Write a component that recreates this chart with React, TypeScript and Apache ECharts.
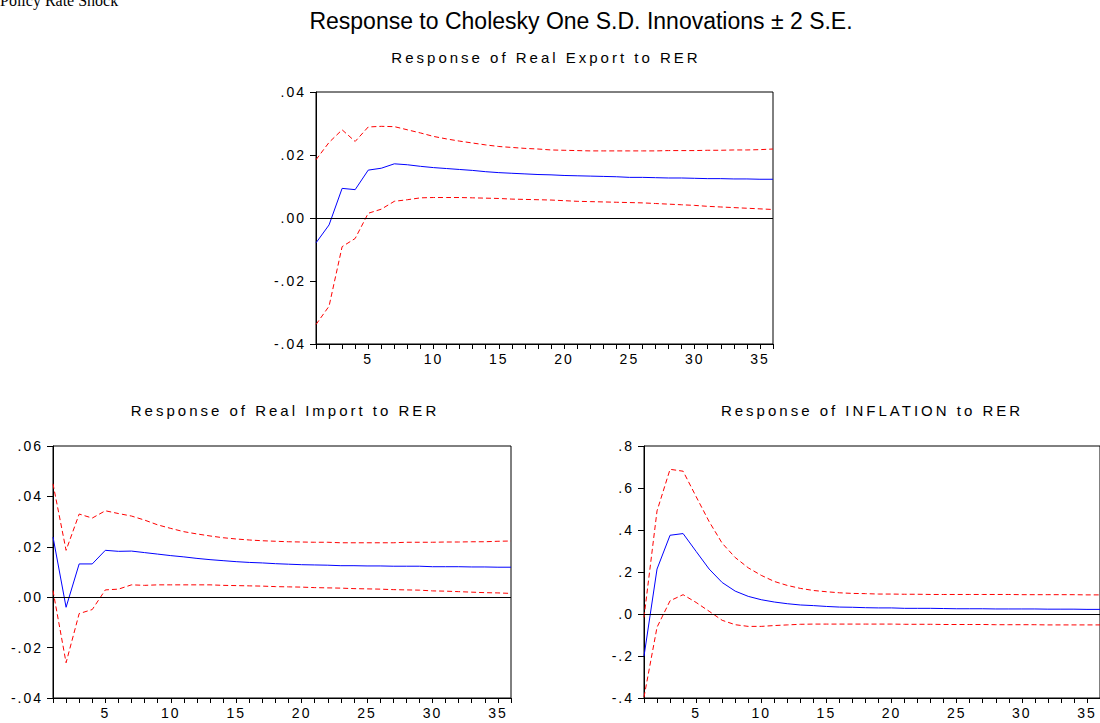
import React, { useEffect, useRef } from "react";
import * as echarts from "echarts";

const periods = Array.from({ length: 36 }, (_, i) => String(i + 1));

const mainTitle = "Response to Cholesky One S.D. Innovations \u00B1 2 S.E.";
const cornerText = "Policy Rate Shock";
const panelTitles = [
  "Response of Real Export to RER",
  "Response of Real Import to RER",
  "Response of INFLATION to RER",
];

const exportMid = [-0.0079, -0.0022, 0.0094, 0.009, 0.0152, 0.0158, 0.0172, 0.0169, 0.0164, 0.016, 0.0157, 0.0154, 0.0151, 0.0147, 0.0144, 0.0142, 0.014, 0.0138, 0.0137, 0.0135, 0.0134, 0.0133, 0.0132, 0.0131, 0.0129, 0.0129, 0.0128, 0.0127, 0.0127, 0.0126, 0.0125, 0.0125, 0.0124, 0.0124, 0.0123, 0.0123];
const exportUp = [0.0185, 0.024, 0.028, 0.0243, 0.0289, 0.0291, 0.029, 0.028, 0.027, 0.0259, 0.0251, 0.0244, 0.0238, 0.0232, 0.0227, 0.0224, 0.0221, 0.0219, 0.0216, 0.0215, 0.0214, 0.0213, 0.0213, 0.0213, 0.0213, 0.0213, 0.0213, 0.0214, 0.0214, 0.0214, 0.0215, 0.0215, 0.0216, 0.0216, 0.0217, 0.0219];
const exportLo = [-0.0338, -0.028, -0.0091, -0.0065, 0.0015, 0.0028, 0.0053, 0.0058, 0.0064, 0.0065, 0.0065, 0.0065, 0.0064, 0.0063, 0.0062, 0.006, 0.0059, 0.0058, 0.0057, 0.0055, 0.0053, 0.0052, 0.0051, 0.005, 0.0049, 0.0048, 0.0046, 0.0044, 0.0042, 0.004, 0.0037, 0.0035, 0.0033, 0.0031, 0.0029, 0.0027];

const importMid = [0.0239, -0.004, 0.0132, 0.0132, 0.0186, 0.0182, 0.0183, 0.0177, 0.0171, 0.0165, 0.016, 0.0154, 0.0149, 0.0145, 0.0141, 0.0138, 0.0136, 0.0133, 0.0131, 0.0129, 0.0128, 0.0127, 0.0125, 0.0125, 0.0124, 0.0124, 0.0123, 0.0123, 0.0123, 0.0121, 0.0121, 0.0121, 0.012, 0.012, 0.0119, 0.0119];
const importUp = [0.045, 0.0186, 0.033, 0.0314, 0.0343, 0.0332, 0.0322, 0.0306, 0.0287, 0.0273, 0.026, 0.0251, 0.0243, 0.0236, 0.0231, 0.0227, 0.0224, 0.0222, 0.022, 0.0219, 0.0218, 0.0218, 0.0216, 0.0216, 0.0216, 0.0216, 0.0216, 0.0218, 0.0218, 0.0218, 0.0219, 0.0219, 0.022, 0.022, 0.0222, 0.0223];
const importLo = [0.0026, -0.026, -0.0065, -0.0049, 0.0029, 0.0032, 0.0049, 0.0047, 0.0049, 0.0049, 0.0049, 0.0049, 0.0049, 0.0047, 0.0046, 0.0045, 0.0044, 0.0042, 0.0041, 0.004, 0.0038, 0.0037, 0.0036, 0.0034, 0.0033, 0.0032, 0.003, 0.0029, 0.0028, 0.0025, 0.0024, 0.0022, 0.002, 0.0018, 0.0017, 0.0015];

const inflMid = [-0.201, 0.214, 0.375, 0.383, 0.298, 0.214, 0.15, 0.109, 0.084, 0.068, 0.057, 0.049, 0.043, 0.04, 0.036, 0.033, 0.032, 0.03, 0.029, 0.029, 0.027, 0.027, 0.027, 0.026, 0.025, 0.025, 0.025, 0.024, 0.024, 0.024, 0.024, 0.023, 0.023, 0.023, 0.022, 0.022];
const inflUp = [-0.016, 0.491, 0.689, 0.68, 0.559, 0.44, 0.337, 0.269, 0.22, 0.184, 0.155, 0.136, 0.122, 0.112, 0.106, 0.101, 0.098, 0.097, 0.095, 0.095, 0.094, 0.094, 0.093, 0.093, 0.093, 0.093, 0.093, 0.093, 0.093, 0.092, 0.092, 0.092, 0.092, 0.092, 0.091, 0.091];
const inflLo = [-0.396, -0.063, 0.063, 0.092, 0.055, 0.013, -0.03, -0.051, -0.059, -0.059, -0.055, -0.052, -0.049, -0.048, -0.048, -0.048, -0.048, -0.048, -0.048, -0.048, -0.049, -0.049, -0.049, -0.05, -0.05, -0.05, -0.05, -0.051, -0.051, -0.051, -0.051, -0.052, -0.052, -0.052, -0.052, -0.052];

const yRanges = [
  { min: -0.04, max: 0.04, interval: 0.02, digits: 2 },
  { min: -0.04, max: 0.06, interval: 0.02, digits: 2 },
  { min: -0.4, max: 0.8, interval: 0.2, digits: 1 },
];

const panels = [
  { mid: exportMid, up: exportUp, lo: exportLo },
  { mid: importMid, up: importUp, lo: importLo },
  { mid: inflMid, up: inflUp, lo: inflLo },
];

const FONT = "Liberation Sans, Arial, sans-serif";

function fmt(v: number, d: number) {
  const s = v.toFixed(d);
  return s.replace("0.", ".");
}

export default function App() {
  const ref = useRef<HTMLDivElement>(null);
  useEffect(() => {
    if (!ref.current) return;
    const chart = echarts.init(ref.current, null, { renderer: "svg" });
    const grids = [
      { left: 316, top: 92, width: 457, height: 252 },
      { left: 53, top: 446, width: 458, height: 252 },
      { left: 644, top: 446, width: 466, height: 252 },
    ];
    const titleCenters = [
      [546, 57],
      [285, 410],
      [872, 410],
    ];
    const series: any[] = [];
    panels.forEach((p, i) => {
      series.push({
        type: "line",
        xAxisIndex: i,
        yAxisIndex: i,
        data: p.lo,
        symbol: "none",
        silent: true,
        lineStyle: { color: "#ff0000", width: 1, type: [5, 3] },
        markLine: {
          silent: true,
          symbol: "none",
          label: { show: false },
          lineStyle: { color: "#000", width: 1, type: "solid" },
          data: [{ yAxis: 0 }],
        },
        z: 3,
      });
      series.push({
        type: "line",
        xAxisIndex: i,
        yAxisIndex: i,
        data: p.up,
        symbol: "none",
        silent: true,
        lineStyle: { color: "#ff0000", width: 1, type: [5, 3] },
        z: 3,
      });
      series.push({
        type: "line",
        xAxisIndex: i,
        yAxisIndex: i,
        data: p.mid,
        symbol: "none",
        silent: true,
        lineStyle: { color: "#0000ff", width: 1 },
        z: 4,
      });
    });
    chart.setOption({
      animation: false,
      backgroundColor: "#fff",
      grid: grids.map((g) => ({
        ...g,
        show: true,
        borderColor: "#000",
        borderWidth: 1,
        backgroundColor: "transparent",
        containLabel: false,
      })),
      xAxis: grids.map((_, i) => ({
        type: "category",
        gridIndex: i,
        data: periods,
        boundaryGap: false,
        axisLine: { onZero: false, lineStyle: { color: "#000", width: 1 } },
        axisTick: { show: true, interval: 0, length: 5, lineStyle: { color: "#000" } },
        axisLabel: {
          interval: (idx: number) => (idx + 1) % 5 === 0,
          color: "#000",
          fontSize: 14,
          fontFamily: FONT,
          margin: 8,
        },
        splitLine: { show: false },
      })),
      yAxis: yRanges.map((r, i) => ({
        type: "value",
        gridIndex: i,
        min: r.min,
        max: r.max,
        interval: r.interval,
        axisLine: { show: true, lineStyle: { color: "#000", width: 1 } },
        axisTick: { show: true, length: 6, lineStyle: { color: "#000" } },
        axisLabel: {
          color: "#000",
          fontSize: 14,
          fontFamily: FONT,
          margin: 10,
          formatter: (v: number) => fmt(v, r.digits),
        },
        splitLine: { show: false },
      })),
      graphic: [
        {
          type: "text",
          x: 0,
          y: -8,
          style: {
            text: cornerText,
            fontSize: 16,
            fontFamily: "Liberation Serif, serif",
            fill: "#000",
            textAlign: "left",
            textVerticalAlign: "top",
          },
        },
        {
          type: "text",
          x: 581,
          y: 21,
          style: {
            text: mainTitle,
            fontSize: 23,
            fontFamily: FONT,
            fill: "#000",
            textAlign: "center",
            textVerticalAlign: "middle",
          },
        },
        ...panelTitles.map((t, i) => ({
          type: "text",
          x: titleCenters[i][0],
          y: titleCenters[i][1],
          style: {
            text: t,
            fontSize: 15,
            fontFamily: FONT,
            fill: "#000",
            textAlign: "center",
            textVerticalAlign: "middle",
          },
        })),
      ],
      series,
    });
    return () => chart.dispose();
  }, []);
  return (
    <>
      <style>{`
        #irf-chart svg text[style*="15px"] { letter-spacing: 3px; }
        #irf-chart svg text[style*="14px"] { letter-spacing: 2px; }
      `}</style>
      <div
        id="irf-chart"
        ref={ref}
        style={{ position: "absolute", left: 0, top: 0, width: 1100, height: 723, overflow: "hidden" }}
      />
    </>
  );
}
